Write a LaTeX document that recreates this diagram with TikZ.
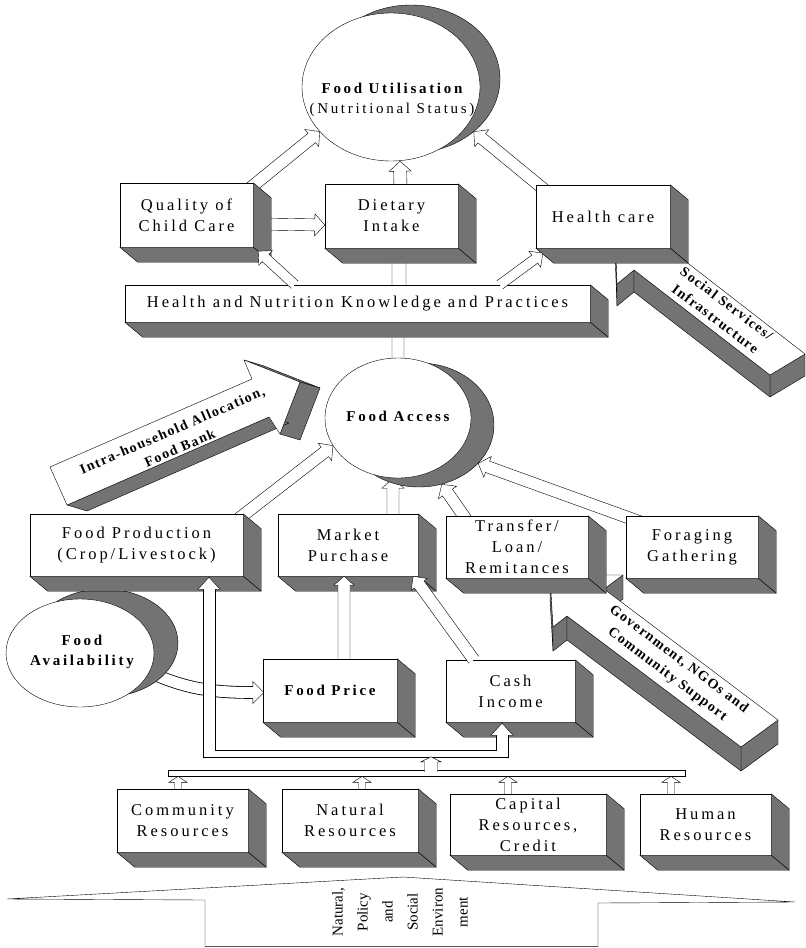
\documentclass[tikz,border=0pt]{standalone}
\usepackage{fontspec}
\setmainfont{Liberation Serif}
\newfontfamily\lsfont{Liberation Serif}[LetterSpace=18]
\newfontfamily\arfont{Liberation Serif}[LetterSpace=10]
\newfontfamily\envfont{Liberation Serif}
\usetikzlibrary{calc,shapes.geometric}
\pgfdeclarelayer{bg}
\pgfsetlayers{bg,main}
\tikzset{
 boxface/.style={draw, fill=white, inner sep=0pt, align=center, font=\lsfont\fontsize{16.5}{21}\selectfont},
 side/.style={fill=black!55, draw=black, line join=round},
 ellsh/.style={ellipse, fill=black!55, draw=black, inner sep=0pt},
 ellw/.style={ellipse, fill=white, draw=black, inner sep=0pt},
 ttl/.style={align=center, inner sep=0pt, font=\lsfont\bfseries\fontsize{15}{20}\selectfont},
 blk/.style={fill=white, draw=black, line join=miter},
 dark/.style={fill=black!55, draw=black, line join=round},
 topface/.style={fill=white, draw=black, line join=round},
 arrtext/.style={align=center, inner sep=0pt, font=\arfont\bfseries\fontsize{14}{19}\selectfont},
}
% block arrow: [style]{from}{to}{shaft half width}{head half width}{head length}
\newcommand\barrow[6][]{%
 \filldraw[blk,#1] let \p1=(#2), \p2=(#3), \n1={atan2(\y2-\y1,\x2-\x1)}, \n2={veclen(\x2-\x1,\y2-\y1)} in
 ($(\p1)+(\n1+90:#4pt)$) -- ($(\p1)+(\n1:{\n2-#6pt})+(\n1+90:#4pt)$) -- ($(\p1)+(\n1:{\n2-#6pt})+(\n1+90:#5pt)$) -- (\p2) -- ($(\p1)+(\n1:{\n2-#6pt})+(\n1-90:#5pt)$) -- ($(\p1)+(\n1:{\n2-#6pt})+(\n1-90:#4pt)$) -- ($(\p1)+(\n1-90:#4pt)$);}
% 3D box: name, x1, y1, x2, y2, text
\newcommand\tdbox[6]{%
 \node[boxface, minimum width={(#4-#2)*1pt}, minimum height={(#5-#3)*1pt}] (#1) at ({(#2+#4)/2},{(#3+#5)/2}) {#6};
 \filldraw[side] (#1.north east) -- ++(18,15) -- ($(#1.south east)+(18,15)$) -- (#1.south east) -- cycle;
 \filldraw[side] (#1.south west) -- (#1.south east) -- ($(#1.south east)+(18,15)$) -- ($(#1.south west)+(18,15)$) -- cycle;}

\begin{document}
\begin{tikzpicture}[x=1pt, y=-1pt, line width=0.8pt]
\useasboundingbox (0,0) rectangle (806,948);
\begin{pgfonlayer}{bg}
\fill[white] (0,0) rectangle (806,948);
\end{pgfonlayer}

% ---------- 3D arrows ----------
% Intra-household allocation
\coordinate (i1) at (50,467);
\coordinate (i2) at (252,379);
\coordinate (i3) at (244,360);
\coordinate (i4) at (300,382);
\coordinate (i5) at (280,434);
\coordinate (i6) at (269,417);
\coordinate (i7) at (67,505);
\foreach \a/\b in {i3/i4,i4/i5,i6/i7}
  \filldraw[dark] (\a) -- (\b) -- ($(\b)+(20,6)$) -- ($(\a)+(20,6)$) -- cycle;
\filldraw[topface] (i1) -- (i2) -- (i3) -- (i4) -- (i5) -- (i6) -- (i7) -- cycle;
\node[arrtext, rotate=23.5] (intrat) at (176,439) {Intra-household Allocation,\\Food Bank};

% Social services
\coordinate (s1) at (770,375);
\coordinate (s2) at (805,354);
\coordinate (s3) at (667,247);
\coordinate (s4) at (686,234);
\coordinate (s5) at (615,231);
\coordinate (s6) at (617,284);
\coordinate (s7) at (634,270);
\foreach \a/\b in {s1/s2,s3/s4,s5/s6,s6/s7,s7/s1}
  \filldraw[dark] (\a) -- (\b) -- ($(\b)+(0,22)$) -- ($(\a)+(0,22)$) -- cycle;
\filldraw[topface] (s1) -- (s2) -- (s3) -- (s4) -- (s5) -- (s6) -- (s7) -- cycle;
\node[arrtext, rotate=-37] (sst) at (721,311) {Social Services/\\Infrastructure};

% Government
\coordinate (g1) at (741,747);
\coordinate (g2) at (778,720);
\coordinate (g3) at (604,589);
\coordinate (g4) at (623,575);
\coordinate (g5) at (550,575);
\coordinate (g6) at (553,627);
\coordinate (g7) at (567,616);
\foreach \a/\b in {g1/g2,g3/g4,g5/g6,g6/g7,g7/g1}
  \filldraw[dark] (\a) -- (\b) -- ($(\b)+(0,24)$) -- ($(\a)+(0,24)$) -- cycle;
\filldraw[topface] (g1) -- (g2) -- (g3) -- (g4) -- (g5) -- (g6) -- (g7) -- cycle;
\node[arrtext, rotate=-37] (govt) at (673,667) {Government, NGOs and\\Community Support};

% ---------- ellipses ----------
\node[ellsh, minimum width=178pt, minimum height=148pt] (fus) at (411,79) {};
\node[ellw, minimum width=178pt, minimum height=148pt] (fu) at (391,87) {};
\node[ttl] (fut) at (392,100) {Food Utilisation\\{\mdseries (Nutritional Status)}};

\node[ellsh, minimum width=150pt, minimum height=124pt] (fas) at (419,425) {};
\node[ellw, minimum width=146pt, minimum height=120pt] (fa) at (398,418) {};
\node[ttl] (fat) at (398,416) {Food Access};

\node[ellsh, minimum width=148pt, minimum height=108pt] (favs) at (104,643) {};
\node[ellw, minimum width=148pt, minimum height=108pt] (fav) at (80,653) {};
\node[ttl] (favt) at (82,652) {Food\\Availability};

% ---------- boxes ----------
\tdbox{qcc}{120}{183}{253}{247}{Quality of\\Child Care}
\tdbox{diet}{325}{184}{458}{248}{Dietary\\Intake}
\tdbox{hcare}{536}{185}{670}{248}{Health care}
\tdbox{hnk}{125}{285}{590}{322}{Health and Nutrition Knowledge and Practices}
\tdbox{fprod}{30}{514}{243}{576}{Food Production\\(Crop/Livestock)}
\tdbox{mkt}{278}{514}{418}{576}{Market\\Purchase}
\tdbox{trans}{446}{516}{588}{578}{Transfer/\\Loan/\\Remitances}
\tdbox{forag}{626}{516}{758}{578}{Foraging\\Gathering}
\tdbox{fprice}{263}{659}{397}{722}{\bfseries\fontsize{15}{20}\selectfont Food Price}
\tdbox{cash}{446}{660}{575}{722}{Cash\\Income}
\tdbox{comm}{117}{789}{248}{852}{Community\\Resources}
\tdbox{natr}{282}{789}{418}{852}{Natural\\Resources}
\tdbox{capr}{450}{794}{606}{855}{Capital\\Resources,\\Credit}
\tdbox{human}{640}{794}{771}{855}{Human\\Resources}

% ---------- arrows behind shapes ----------
\begin{pgfonlayer}{bg}
\barrow{$(qcc.north east)+(-4,6)$}{fu.212}{6}{11}{10}
\barrow{$(diet.north)+(9,6)$}{$(fu.south)+(9,0)$}{6.5}{11}{10}
\barrow{$(hcare.north west)+(10,6)$}{fus.-40}{6}{11}{10}
\barrow{$(qcc.east)+(5,9)$}{$(diet.west)+(0,9)$}{6}{11}{10}
\barrow{$(hnk.north)+(41.5,5)$}{$(diet.south)+(7.5,4)$}{7}{11}{8}
\barrow{$(fa.north)+(0,8)$}{$(hnk.south)+(40.5,4)$}{6}{10}{6}
\barrow{$(fprod.north east)+(-6,6)$}{fa.203}{6}{11}{10}
\barrow{$(mkt.north)+(45,8)$}{$(fa.south)+(-5,0)$}{6}{11}{10}
\barrow{$(trans.north west)+(22,6)$}{fas.-69}{6}{11}{10}
\barrow{$(forag.north west)+(14,6)$}{fas.-33}{6}{11}{10}
% food availability -> food price (curved)
\draw[double=white, double distance=11pt, line width=0.8pt] ($(fav.-15)+(-6,-2)$) to[out=-25,in=180] ($(fprice.west)+(-10,2)$);
\filldraw[blk] ($(fprice.west)+(-10,-3.5)$) -- ($(fprice.west)+(-10,-9)$) -- ($(fprice.west)+(1,2)$) -- ($(fprice.west)+(-10,13)$) -- ($(fprice.west)+(-10,7.5)$);
% resources -> lower pipe
\barrow{$(comm.north)+(-4.5,5)$}{$(comm.north)+(-4.5,-12.5)$}{3.5}{9}{6}
\barrow{$(natr.north)+(12,5)$}{$(natr.north)+(12,-12.5)$}{3.5}{9}{6}
\barrow{$(capr.north)+(-20,5)$}{$(capr.north)+(-20,-17.5)$}{3.5}{9}{6}
\barrow{$(human.north)+(-34.5,5)$}{$(human.north)+(-34.5,-17.5)$}{3.5}{9}{6}
\end{pgfonlayer}

% ---------- arrows in front ----------
\barrow{$(hnk.north west)+(170,0)$}{$(qcc.south east)+(5,4)$}{5}{10}{10}
\barrow{$(hnk.north west)+(375,0)$}{$(hcare.south west)+(7,5)$}{5}{10}{10}
\barrow{$(fprice.north)+(14,0)$}{$(mkt.south)+(-4,0)$}{6}{10}{9}
\barrow{$(cash.north west)+(28,0)$}{$(mkt.south east)+(-5,0)$}{6}{10}{10}

% upper pipe: to food production and cash income
\coordinate (fpt) at ($(fprod.south)+(72.5,0)$);
\coordinate (cst) at ($(cash.south)+(-8.5,0)$);
\fill[white] ($(fpt)+(-6,13)$) -- ($(fpt)+(-6,181)$) -- ($(cst)+(6,35)$) -- ($(cst)+(6,13)$) -- ($(cst)+(-6,13)$) -- ($(cst)+(-6,28)$) -- ($(fpt)+(6,174)$) -- ($(fpt)+(6,13)$) -- cycle;
\draw[line join=miter] ($(fpt)+(-6,13)$) -- ($(fpt)+(-6,181)$) -- ($(cst)+(6,35)$) -- ($(cst)+(6,13)$);
\draw[line join=miter] ($(fpt)+(6,13)$) -- ($(fpt)+(6,174)$) -- ($(cst)+(-6,28)$) -- ($(cst)+(-6,13)$);
\filldraw[blk] ($(fpt)+(-6,13)$) -- ($(fpt)+(-11,13)$) -- ($(fpt)+(0,1)$) -- ($(fpt)+(11,13)$) -- ($(fpt)+(6,13)$);
\filldraw[blk] ($(cst)+(-6,13)$) -- ($(cst)+(-11,13)$) -- ($(cst)+(0,1)$) -- ($(cst)+(11,13)$) -- ($(cst)+(6,13)$);

% lower pipe and merge
\node[draw, fill=white, inner sep=0pt, minimum width=517pt, minimum height=6pt] (lpipe) at (426.5,773) {};
\barrow{$(lpipe.north)+(4.5,2)$}{$(lpipe.north)+(4.5,-13)$}{6.5}{10}{5}

% ---------- environment ----------
\filldraw[fill=white, draw=black, line join=miter] (7,899) -- (403,877) -- (795,902) -- (598,903) -- (598,946.6) -- (205,946.6) -- (205,900) -- cycle;
\node[rotate=90, align=center, inner sep=0pt, font=\envfont\fontsize{15}{25}\selectfont] (envt) at (400,912) {Natural,\\Policy\\and\\Social\\Environ\\ment};
\end{tikzpicture}
\end{document}
